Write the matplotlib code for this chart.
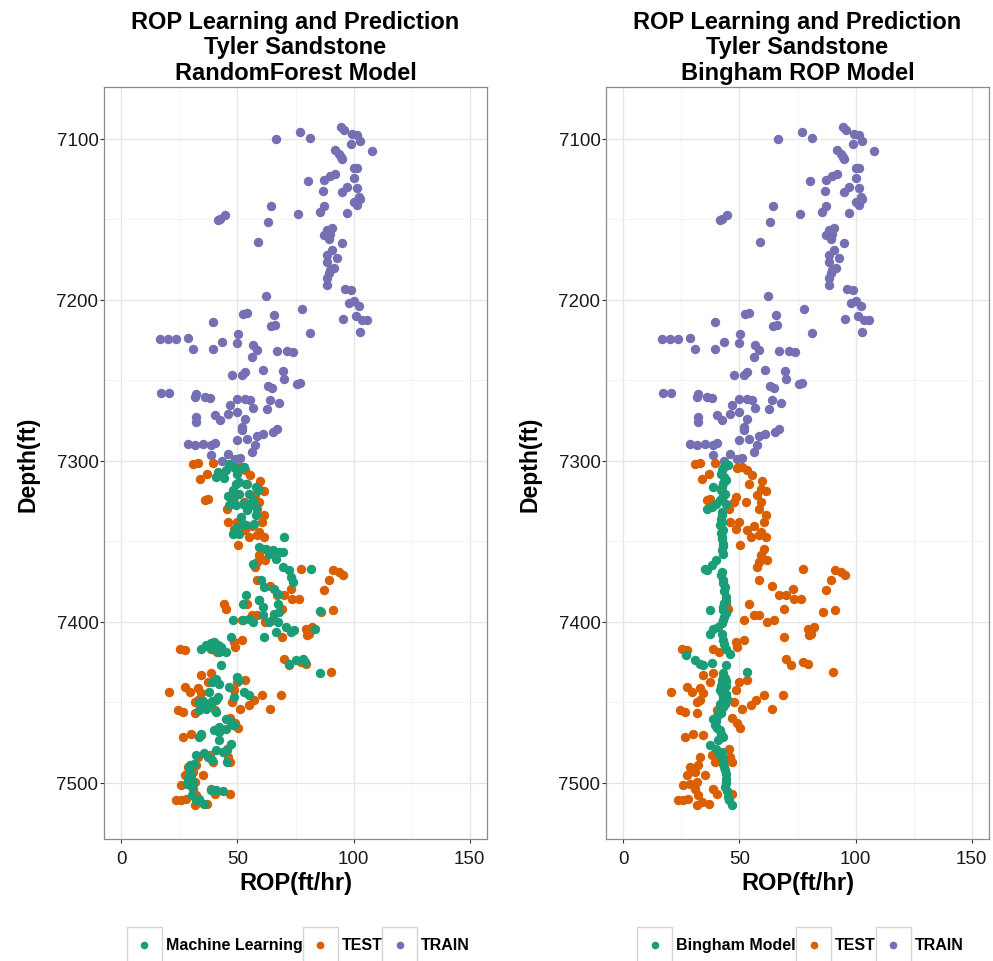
import matplotlib
matplotlib.use("Agg")
import matplotlib.pyplot as plt
from matplotlib.patches import Rectangle
from matplotlib.lines import Line2D

plt.rcParams['font.family'] = ['Liberation Sans', 'DejaVu Sans']

# ---- data (ROP ft/hr, depth ft) ----
train_rop = [94.4, 95.7, 99.4, 101.6, 103.0, 99.0, 108.1, 76.8, 81.4, 66.5, 92.2, 93.7, 94.4, 95.1,
             100.1, 101.6, 100.4, 92.2, 90.0, 87.2, 80.4, 86.7, 97.3, 95.1, 101.6, 102.3, 100.1, 103.0,
             101.6, 64.4, 87.2, 85.7, 97.0, 75.9, 42.4, 44.6, 41.7, 63.3, 88.6, 90.8, 87.2, 89.3, 90.0,
             95.1, 58.7, 90.8, 88.6, 93.0, 88.6, 91.5, 89.3, 90.0, 88.6, 88.6, 96.5, 99.0, 62.3, 97.9,
             100.1, 102.3, 77.8, 95.4, 100.9, 103.8, 105.9, 103.0, 81.4, 52.5, 54.0, 65.8, 64.4, 66.2,
             39.5, 50.3, 16.5, 20.0, 23.4, 28.7, 30.9, 39.5, 43.2, 49.7, 56.8, 58.3, 56.1, 67.0, 71.3,
             73.9, 47.5, 51.8, 53.2, 61.2, 69.6, 70.1, 75.6, 77.1, 63.3, 64.8, 17.2, 20.5, 32.3, 31.6,
             35.9, 38.1, 49.7, 53.2, 55.4, 56.8, 64.1, 67.7, 62.6, 46.8, 46.0, 49.7, 32.3, 32.3, 40.3,
             42.4, 53.2, 51.8, 51.8, 28.7, 31.6, 35.2, 38.8, 40.3, 49.7, 54.0, 58.3, 61.2, 65.5, 67.0,
             57.6, 56.1, 38.8, 46.0, 51.1, 48.9, 43.2]
train_depth = [7092.7, 7094.5, 7096.9, 7097.9, 7101.7, 7103.5, 7107.9, 7095.9, 7099.6, 7100.6, 7107.3,
               7109.3, 7111.4, 7113.0, 7118.6, 7118.2, 7124.4, 7122.2, 7123.4, 7125.5, 7126.5, 7132.5,
               7130.0, 7133.1, 7131.0, 7136.2, 7139.3, 7137.3, 7141.4, 7142.0, 7142.0, 7145.5, 7146.2,
               7147.0, 7149.7, 7147.7, 7150.7, 7151.7, 7157.0, 7155.5, 7160.1, 7162.1, 7159.0, 7164.8,
               7164.2, 7169.4, 7172.5, 7174.1, 7176.6, 7180.7, 7183.8, 7181.8, 7186.9, 7191.1, 7193.2,
               7194.2, 7198.0, 7202.2, 7200.7, 7203.8, 7205.6, 7211.8, 7210.1, 7212.9, 7212.9, 7220.1,
               7220.8, 7208.7, 7208.1, 7209.7, 7216.4, 7215.5, 7213.9, 7221.1, 7224.7, 7224.7, 7224.7,
               7223.8, 7230.8, 7230.4, 7226.2, 7227.2, 7228.4, 7231.5, 7235.6, 7231.9, 7231.9, 7232.5,
               7246.6, 7246.6, 7244.9, 7243.5, 7244.3, 7249.1, 7252.6, 7251.7, 7253.9, 7254.9, 7258.0,
               7258.0, 7258.4, 7260.4, 7260.4, 7260.9, 7261.5, 7261.5, 7262.5, 7267.3, 7262.5, 7264.0,
               7267.7, 7265.6, 7270.8, 7269.7, 7272.9, 7276.0, 7271.9, 7275.0, 7273.9, 7279.1, 7281.2,
               7289.9, 7290.5, 7289.4, 7290.5, 7289.1, 7287.4, 7286.3, 7284.7, 7283.2, 7282.2, 7280.1,
               7290.5, 7294.6, 7296.3, 7295.7, 7298.3, 7299.2, 7300.4]

test_rop = [30.9, 33.0, 39.6, 49.0, 51.2, 53.3, 55.5, 36.7, 33.8, 54.1, 59.9, 59.1, 61.3, 57.7, 59.1,
            58.4, 61.3, 48.3, 47.5, 52.6, 35.9, 37.4, 45.4, 46.1, 48.3, 53.3, 56.2, 61.3, 58.4, 54.8,
            49.7, 60.6, 59.1, 50.4, 60.6, 59.1, 58.4, 62.0, 57.7, 58.4, 77.3, 91.0, 93.9, 89.6, 95.4,
            64.2, 67.1, 70.0, 72.9, 73.6, 76.5, 69.3, 87.4, 54.1, 86.0, 91.0, 51.9, 56.2, 58.4, 62.0,
            64.9, 79.4, 82.3, 80.1, 80.9, 69.3, 25.1, 27.2, 38.8, 41.0, 48.3, 51.9, 49.0, 70.0, 72.2,
            77.3, 79.4, 90.3, 34.5, 37.4, 38.8, 49.7, 53.3, 48.3, 20.7, 27.2, 29.4, 33.0, 34.5, 31.6,
            33.0, 47.5, 60.6, 57.0, 54.8, 68.6, 64.2, 51.2, 24.3, 26.5, 31.6, 40.3, 46.8, 49.0, 50.4,
            26.5, 30.1, 34.5, 45.4, 46.1, 38.1, 39.6, 46.8, 33.0, 28.7, 30.9, 27.2, 35.2, 32.3, 25.8,
            28.7, 31.6, 30.9, 38.8, 40.3, 23.6, 25.8, 27.9, 31.6, 33.8, 36.7, 32.3, 46.8, 44.3, 45.0]
test_depth = [7301.9, 7301.2, 7301.2, 7304.9, 7303.9, 7306.0, 7309.1, 7308.1, 7311.6, 7314.3, 7312.9,
              7317.4, 7319.1, 7321.5, 7325.6, 7329.8, 7333.9, 7322.6, 7325.6, 7325.6, 7324.6, 7324.0,
              7329.8, 7338.1, 7342.2, 7343.3, 7340.6, 7347.5, 7346.4, 7347.5, 7338.1, 7338.1, 7344.3,
              7352.6, 7354.7, 7358.8, 7362.9, 7361.9, 7366.0, 7373.9, 7367.1, 7368.1, 7369.2, 7374.4,
              7371.3, 7378.1, 7383.7, 7383.7, 7379.5, 7385.7, 7385.7, 7391.9, 7380.6, 7388.8, 7393.9,
              7392.9, 7399.2, 7396.1, 7396.1, 7400.2, 7399.2, 7404.3, 7403.3, 7408.5, 7407.5, 7409.5,
              7416.8, 7417.8, 7416.8, 7418.9, 7412.6, 7411.6, 7415.7, 7423.0, 7427.1, 7425.0, 7426.1,
              7431.1, 7433.2, 7437.3, 7432.1, 7437.3, 7436.3, 7442.5, 7443.5, 7440.4, 7443.5, 7441.4,
              7444.6, 7449.8, 7448.7, 7449.8, 7445.6, 7448.7, 7451.8, 7445.6, 7454.5, 7454.3, 7454.9,
              7456.0, 7457.0, 7454.9, 7460.1, 7463.2, 7466.3, 7471.5, 7470.1, 7470.5, 7478.9, 7484.0,
              7483.0, 7487.1, 7487.1, 7484.0, 7490.2, 7493.4, 7495.4, 7495.4, 7489.2, 7501.7, 7500.6,
              7499.6, 7503.7, 7503.7, 7506.8, 7510.9, 7510.9, 7509.9, 7514.1, 7512.0, 7513.0, 7507.9,
              7506.8, 7388.8, 7392.0]

ml_rop = [46.4, 48.6, 45.0, 41.4, 40.7, 50.8, 52.9, 50.0, 50.8, 49.3, 53.7, 47.9, 50.8, 55.1, 58.0,
          58.7, 56.5, 47.9, 46.4, 49.3, 52.2, 55.1, 58.0, 58.0, 57.3, 52.2, 50.0, 48.6, 47.9, 50.8,
          53.7, 70.2, 59.4, 65.2, 68.1, 69.5, 66.6, 63.7, 62.3, 56.5, 69.5, 72.4, 73.1, 73.8, 81.8,
          60.2, 61.6, 65.9, 67.3, 53.7, 59.4, 52.2, 59.4, 60.8, 67.3, 68.1, 65.9, 60.8, 85.4, 47.9,
          52.2, 55.1, 56.5, 63.7, 67.3, 70.9, 73.1, 74.5, 66.6, 61.6, 83.2, 40.0, 41.4, 39.2, 37.8,
          42.1, 45.0, 47.2, 34.2, 42.8, 72.4, 75.3, 78.2, 78.9, 85.4, 40.7, 42.1, 39.2, 46.4, 50.0,
          50.8, 37.8, 41.4, 40.7, 48.6, 52.9, 55.1, 33.5, 35.6, 36.4, 38.5, 33.5, 40.7, 45.0, 47.2,
          47.9, 42.1, 48.6, 45.0, 40.0, 42.1, 34.2, 33.5, 42.1, 47.2, 45.7, 43.6, 40.7, 32.0, 35.6,
          37.1, 39.2, 31.3, 29.1, 45.7, 29.1, 29.9, 28.4, 30.5, 30.5, 33.5, 35.6, 32.0, 38.5, 40.7,
          43.6, 38.5, 40.7, 43.0, 36.5, 35.0, 37.0, 39.0, 29.5, 30.0, 28.8, 31.0, 44.0, 46.0, 54.0,
          51.5]
ml_depth = [7301.9, 7303.9, 7306.0, 7307.0, 7310.1, 7305.0, 7303.9, 7308.1, 7313.3, 7314.3, 7314.3,
            7318.4, 7320.5, 7320.5, 7316.3, 7318.4, 7324.6, 7324.6, 7327.8, 7327.8, 7326.7, 7326.7,
            7328.8, 7334.0, 7339.1, 7339.1, 7341.2, 7344.3, 7345.3, 7345.3, 7340.2, 7347.4, 7353.6,
            7355.7, 7356.7, 7356.7, 7360.9, 7357.8, 7354.7, 7364.0, 7366.0, 7368.1, 7372.2, 7375.3,
            7367.1, 7373.9, 7378.4, 7379.5, 7382.6, 7383.6, 7386.3, 7388.8, 7386.8, 7390.9, 7388.8,
            7393.9, 7395.0, 7396.0, 7393.4, 7399.2, 7399.2, 7398.1, 7400.2, 7400.2, 7400.2, 7403.3,
            7406.4, 7405.4, 7406.4, 7409.5, 7404.3, 7412.6, 7414.7, 7416.8, 7415.7, 7418.8, 7418.8,
            7409.5, 7416.8, 7427.1, 7426.1, 7424.0, 7423.0, 7425.0, 7431.7, 7435.4, 7438.5, 7437.5,
            7440.6, 7434.4, 7436.5, 7443.7, 7446.8, 7448.9, 7446.8, 7443.7, 7445.8, 7450.0, 7452.1,
            7454.2, 7451.1, 7455.2, 7456.3, 7460.2, 7462.3, 7464.4, 7465.4, 7464.3, 7466.5, 7467.5,
            7468.5, 7469.6, 7471.6, 7473.7, 7475.8, 7479.9, 7480.9, 7479.9, 7483.0, 7481.9, 7484.0,
            7486.1, 7488.2, 7491.3, 7487.2, 7494.4, 7497.5, 7500.6, 7502.7, 7507.9, 7509.9, 7513.0,
            7511.0, 7504.8, 7504.8, 7505.4, 7413.5, 7417.0, 7416.0, 7414.5, 7449.0, 7453.0, 7449.5,
            7489.0, 7495.0, 7498.0, 7500.0, 7311.0, 7322.0, 7330.5, 7335.0]

bing_rop = [43.7, 45.1, 43.0, 42.5, 42.0, 43.5, 44.4, 43.0, 42.3, 38.6, 42.0, 43.7, 43.0, 41.5, 38.0,
            35.8, 40.1, 44.4, 42.3, 42.5, 42.0, 42.5, 41.5, 42.9, 42.0, 42.3, 42.5, 42.9, 43.0, 42.3,
            42.9, 40.1, 38.0, 35.0, 36.2, 42.3, 42.0, 42.9, 43.0, 43.7, 43.5, 44.4, 44.0, 43.5, 42.9,
            43.0, 44.4, 43.5, 42.9, 37.2, 42.5, 38.6, 37.2, 40.8, 42.3, 42.9, 43.5, 44.4, 45.8, 27.1,
            30.7, 32.9, 34.3, 38.0, 44.4, 53.1, 43.0, 42.9, 43.8, 42.5, 44.2, 42.3, 42.0, 44.0, 41.5,
            42.5, 44.2, 42.9, 43.0, 44.5, 43.7, 41.8, 42.9, 41.5, 42.0, 40.5, 38.6, 40.0, 39.4, 40.5,
            41.5, 42.0, 42.9, 40.8, 37.2, 40.1, 42.3, 41.0, 42.5, 42.9, 43.0, 43.5, 43.7, 44.0, 44.4,
            44.0, 43.7, 44.5, 45.1, 45.5, 46.6]
bing_depth = [7301.9, 7302.9, 7304.5, 7306.0, 7308.1, 7310.0, 7312.2, 7314.0, 7316.4, 7316.4, 7318.0,
              7320.5, 7322.0, 7324.6, 7328.8, 7329.8, 7326.7, 7326.7, 7331.9, 7334.0, 7336.0, 7338.0,
              7340.2, 7343.3, 7345.0, 7347.4, 7349.0, 7351.6, 7353.0, 7355.7, 7357.8, 7361.9, 7365.0,
              7367.1, 7368.1, 7369.1, 7371.0, 7374.3, 7376.0, 7378.4, 7381.0, 7384.6, 7387.0, 7388.5,
              7390.8, 7392.5, 7394.9, 7397.0, 7399.1, 7392.8, 7401.0, 7404.3, 7407.5, 7403.2, 7407.5,
              7411.6, 7414.0, 7416.8, 7419.9, 7420.9, 7424.0, 7426.1, 7427.1, 7425.7, 7427.1, 7431.6,
              7432.0, 7434.4, 7435.0, 7436.0, 7437.0, 7438.5, 7440.0, 7440.0, 7442.6, 7444.5, 7445.0,
              7446.8, 7448.5, 7448.0, 7450.9, 7451.0, 7453.0, 7455.1, 7457.0, 7458.5, 7460.2, 7462.0,
              7464.4, 7466.0, 7467.5, 7469.5, 7471.6, 7473.7, 7476.8, 7478.9, 7480.9, 7482.5, 7484.0,
              7486.1, 7488.5, 7490.0, 7492.3, 7494.5, 7497.5, 7500.0, 7502.7, 7505.0, 7508.9, 7511.0,
              7514.1]

GREEN, ORANGE, PURPLE = "#1B9E77", "#D95F02", "#7570B3"
W, H = 993, 962

fig = plt.figure(figsize=(W / 100, H / 100), dpi=100)
ax_l = fig.add_axes([104 / W, 122 / H, 383 / W, 752 / H])
ax_r = fig.add_axes([606 / W, 122 / H, 383 / W, 752 / H])

panels = [
    (ax_l, ml_rop, ml_depth, "RandomForest Model", "Machine Learning"),
    (ax_r, bing_rop, bing_depth, "Bingham ROP Model", "Bingham Model"),
]

for ax, p_rop, p_depth, model, pred_label in panels:
    ax.scatter(train_rop, train_depth, s=46, color=PURPLE, linewidths=0, zorder=3)
    ax.scatter(test_rop, test_depth, s=46, color=ORANGE, linewidths=0, zorder=3)
    ax.scatter(p_rop, p_depth, s=46, color=GREEN, linewidths=0, zorder=4)

    ax.set_xlim(-7.5, 157.5)
    ax.set_ylim(7535, 7068)
    ax.set_xticks([0, 50, 100, 150])
    ax.set_xticks([25, 75, 125], minor=True)
    ax.set_yticks([7100, 7200, 7300, 7400, 7500])
    ax.set_yticks([7150, 7250, 7350, 7450], minor=True)
    ax.grid(which='major', color='#e6e6e6', lw=1.0, zorder=0)
    ax.grid(which='minor', color='#f3f3f3', lw=0.6, zorder=0)
    ax.tick_params(which='major', length=3, width=0.8, color='#333333',
                   labelsize=13.5, labelcolor='#1a1a1a', pad=1)
    ax.tick_params(axis='x', which='major', pad=5)
    ax.tick_params(which='minor', length=0)
    for sp in ax.spines.values():
        sp.set_color('#8c8c8c')
        sp.set_linewidth(0.9)

    ax.set_title("ROP Learning and Prediction\nTyler Sandstone\n" + model,
                 fontsize=17, fontweight='bold', linespacing=1.14, pad=6)
    ax.set_xlabel("ROP(ft/hr)", fontsize=17, fontweight='bold', labelpad=3)
    ax.set_ylabel("Depth(ft)", fontsize=16.5, fontweight='bold', labelpad=12)

# ---- legends below each panel, ggplot style key boxes ----
fig.canvas.draw()
rend = fig.canvas.get_renderer()
key_w, key_h, gap = 35, 36, 4
cy = 16  # legend centre, pixels from bottom

for ax, _, _, _, pred_label in panels:
    labels = [pred_label, "TEST", "TRAIN"]
    colors = [GREEN, ORANGE, PURPLE]
    texts = []
    widths = []
    for lab in labels:
        t = fig.text(0, cy / H, lab, fontsize=11.5, fontweight='bold', va='center', ha='left')
        texts.append(t)
        widths.append(t.get_window_extent(rend).width)
    total = sum(key_w + gap + w for w in widths)
    bb = ax.get_window_extent(rend)
    x = (bb.x0 + bb.x1) / 2 - total / 2 + 3
    for t, w, c in zip(texts, widths, colors):
        fig.add_artist(Rectangle((x / W, (cy - key_h / 2) / H), key_w / W, key_h / H,
                                 transform=fig.transFigure, facecolor='white',
                                 edgecolor='#d6d6d6', lw=1.0))
        fig.add_artist(Line2D([(x + key_w / 2) / W], [cy / H], marker='o', ms=4.5,
                              color=c, lw=0, transform=fig.transFigure))
        t.set_x((x + key_w + gap) / W)
        x += key_w + gap + w

fig.savefig("out.png", dpi=100)
